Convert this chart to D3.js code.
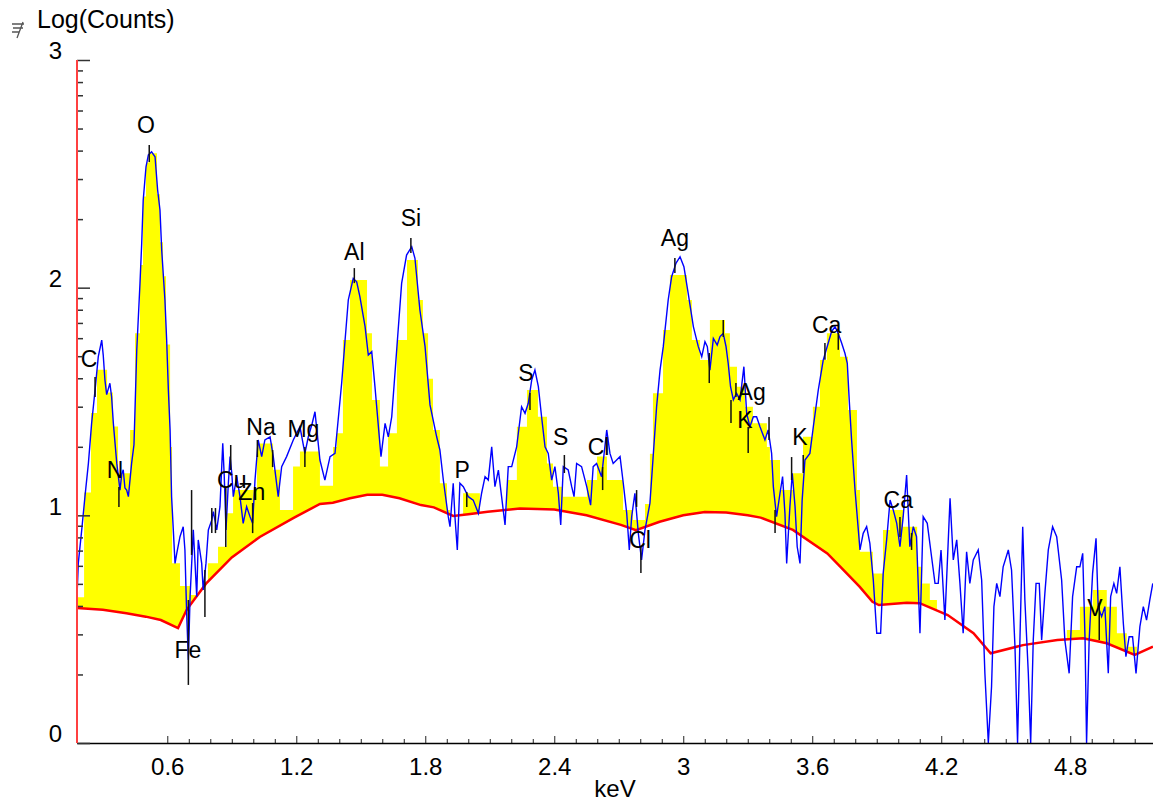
<!DOCTYPE html>
<html>
<head>
<meta charset="utf-8">
<script src="https://cdn.jsdelivr.net/npm/d3@7"></script>
<style>
    body { margin: 0; background: #fff; }
    svg { display: block; font-family: "Liberation Sans", Arial, sans-serif; }
</style>
</head>
<body>
<svg id="chart" width="1153" height="803"></svg>
<script>
// measured spectrum (blue), keV / log10(counts)
var spectrumKeV = [
    0.180, 0.186, 0.202, 0.217, 0.233, 0.248, 0.264, 0.279, 0.295, 0.302,
    0.310, 0.318, 0.333, 0.341, 0.349, 0.365, 0.380, 0.388, 0.395, 0.403,
    0.411, 0.419, 0.434, 0.445, 0.458, 0.473, 0.481, 0.488, 0.501, 0.512,
    0.527, 0.543, 0.555, 0.566, 0.574, 0.589, 0.597, 0.605, 0.613, 0.620,
    0.636, 0.644, 0.659, 0.674, 0.682, 0.690, 0.698, 0.706, 0.721, 0.729,
    0.737, 0.744, 0.760, 0.767, 0.780, 0.791, 0.807, 0.814, 0.830, 0.845,
    0.858, 0.865, 0.873, 0.884, 0.892, 0.900, 0.907, 0.923, 0.938, 0.953,
    0.969, 0.985, 0.997, 1.008, 1.023, 1.039, 1.054, 1.078, 1.093, 1.116,
    1.132, 1.155, 1.186, 1.217, 1.240, 1.256, 1.273, 1.287, 1.310, 1.333,
    1.357, 1.380, 1.411, 1.427, 1.442, 1.465, 1.481, 1.496, 1.520, 1.535,
    1.551, 1.566, 1.594, 1.613, 1.628, 1.644, 1.667, 1.690, 1.713, 1.737,
    1.752, 1.775, 1.799, 1.822, 1.853, 1.868, 1.884, 1.907, 1.915, 1.930,
    1.938, 1.949, 1.961, 1.977, 2.000, 2.023, 2.047, 2.062, 2.078, 2.093,
    2.109, 2.124, 2.140, 2.155, 2.171, 2.186, 2.202, 2.225, 2.248, 2.264,
    2.279, 2.295, 2.310, 2.326, 2.341, 2.357, 2.372, 2.388, 2.403, 2.419,
    2.430, 2.442, 2.465, 2.481, 2.492, 2.504, 2.527, 2.551, 2.569, 2.581,
    2.597, 2.620, 2.644, 2.659, 2.674, 2.690, 2.706, 2.721, 2.737, 2.749,
    2.760, 2.775, 2.791, 2.806, 2.822, 2.845, 2.860, 2.876, 2.892, 2.907,
    2.930, 2.946, 2.966, 2.985, 3.003, 3.023, 3.047, 3.070, 3.086, 3.101,
    3.112, 3.124, 3.140, 3.158, 3.171, 3.186, 3.199, 3.209, 3.220, 3.233,
    3.248, 3.264, 3.282, 3.295, 3.310, 3.326, 3.341, 3.357, 3.380, 3.395,
    3.411, 3.419, 3.434, 3.450, 3.462, 3.473, 3.481, 3.496, 3.507, 3.520,
    3.530, 3.543, 3.553, 3.566, 3.589, 3.605, 3.628, 3.651, 3.674, 3.690,
    3.706, 3.721, 3.737, 3.752, 3.763, 3.772, 3.783, 3.799, 3.822, 3.837,
    3.853, 3.868, 3.884, 3.900, 3.918, 3.930, 3.946, 3.962, 3.977, 3.993,
    4.008, 4.023, 4.039, 4.054, 4.070, 4.085, 4.101, 4.116, 4.135, 4.155,
    4.171, 4.186, 4.199, 4.217, 4.241, 4.256, 4.272, 4.287, 4.302, 4.318,
    4.333, 4.349, 4.372, 4.388, 4.403, 4.419, 4.434, 4.445, 4.458, 4.473,
    4.488, 4.512, 4.527, 4.543, 4.555, 4.566, 4.579, 4.589, 4.605, 4.616,
    4.628, 4.641, 4.656, 4.667, 4.682, 4.698, 4.718, 4.737, 4.760, 4.775,
    4.795, 4.811, 4.830, 4.845, 4.858, 4.869, 4.876, 4.888, 4.904, 4.920,
    4.930, 4.946, 4.961, 4.977, 4.988, 5.003, 5.016, 5.031, 5.047, 5.059,
    5.074, 5.090, 5.106, 5.124, 5.140, 5.155, 5.170, 5.184
];
var spectrumLog = [
    0.643, 0.789, 0.936, 1.082, 1.228, 1.404, 1.55, 1.697, 1.77, 1.704,
    1.594, 1.53, 1.58, 1.52, 1.405, 1.228, 1.111, 1.18, 1.2, 1.12,
    1.111, 1.082, 1.228, 1.31, 1.726, 2.019, 2.195, 2.385, 2.531, 2.583,
    2.597, 2.575, 2.429, 2.341, 2.165, 1.946, 1.77, 1.55, 1.375, 1.082,
    0.789, 0.833, 0.906, 0.95, 0.848, 0.57, 0.365, 0.643, 0.936, 0.79,
    0.643, 0.892, 0.789, 0.672, 0.79, 0.936, 0.98, 1.016, 0.936, 1.038,
    1.316, 1.17, 0.936, 1.141, 1.258, 1.185, 1.082, 1.17, 1.082, 0.965,
    1.038, 0.994, 0.965, 1.155, 1.331, 1.258, 1.331, 1.345, 1.258, 1.082,
    1.214, 1.258, 1.331, 1.389, 1.272, 1.345, 1.40, 1.455, 1.243, 1.155,
    1.258, 1.272, 1.58, 1.77, 1.946, 2.041, 2.026, 1.96, 1.829, 1.704,
    1.719, 1.565, 1.258, 1.404, 1.345, 1.433, 1.726, 2.019, 2.143, 2.18,
    2.129, 1.902, 1.741, 1.485, 1.345, 1.287, 1.155, 0.994, 0.95, 1.141,
    0.994, 0.848, 1.141, 1.126, 1.082, 1.067, 1.009, 1.097, 1.17, 1.155,
    1.301, 1.126, 1.199, 1.082, 0.958, 1.214, 1.214, 1.301, 1.477, 1.448,
    1.492, 1.594, 1.638, 1.565, 1.433, 1.301, 1.272, 1.155, 1.214, 1.097,
    0.958, 1.214, 1.199, 1.126, 1.082, 1.228, 1.214, 1.126, 1.045, 1.214,
    1.228, 1.17, 1.375, 1.272, 1.228, 1.243, 1.258, 1.141, 1.009, 0.848,
    0.994, 1.097, 0.921, 0.804, 0.936, 1.053, 1.258, 1.477, 1.638, 1.741,
    1.946, 2.048, 2.107, 2.136, 2.092, 1.975, 1.829, 1.741, 1.697, 1.763,
    1.741, 1.638, 1.777, 1.748, 1.785, 1.799, 1.741, 1.668, 1.565, 1.507,
    1.536, 1.507, 1.653, 1.448, 1.389, 1.433, 1.433, 1.389, 1.331, 1.375,
    1.272, 1.126, 0.994, 1.097, 1.17, 1.009, 0.789, 1.038, 1.185, 1.038,
    0.862, 0.789, 1.067, 1.243, 1.272, 1.389, 1.55, 1.682, 1.756, 1.807,
    1.829, 1.799, 1.756, 1.712, 1.668, 1.507, 1.331, 1.111, 0.848, 0.921,
    0.95, 0.877, 0.716, 0.482, 0.482, 0.745, 0.892, 1.067, 1.023, 0.965,
    0.862, 0.994, 1.177, 0.862, 0.95, 0.906, 0.482, 0.994, 0.965, 0.818,
    0.701, 0.701, 0.848, 0.54, 1.075, 0.804, 0.892, 0.701, 0.482, 0.84,
    0.701, 0.804, 0.848, 0.716, 0.306, 0, 0.247, 0.599, 0.701, 0.643,
    0.774, 0.848, 0.76, 0.423, 0, 0.452, 0.95, 0.628, 0.306, 0,
    0.452, 0.701, 0.701, 0.452, 0.657, 0.848, 0.95, 0.906, 0.716, 0.452,
    0.306, 0.643, 0.774, 0.774, 0.833, 0.452, 0, 0.452, 0.745, 0.899,
    0.599, 0.555, 0.599, 0.306, 0.643, 0.701, 0.657, 0.774, 0.526, 0.379,
    0.467, 0.467, 0.306, 0.511, 0.599, 0.54, 0.628, 0.701
];

// fitted peaks (yellow steps), each value holds until the next keV
var fitKeV = [
    0.180, 0.213, 0.245, 0.273, 0.320, 0.347, 0.371, 0.427, 0.450, 0.473,
    0.487, 0.501, 0.515, 0.552, 0.566, 0.580, 0.594, 0.613, 0.622, 0.659,
    0.706, 0.775, 0.789, 0.836, 0.878, 0.906, 1.017, 1.092, 1.124, 1.185,
    1.217, 1.310, 1.371, 1.389, 1.417, 1.450, 1.529, 1.552, 1.589, 1.627,
    1.668, 1.715, 1.766, 1.789, 1.813, 1.836, 1.868, 1.901, 1.915, 1.976,
    2.054, 2.180, 2.226, 2.273, 2.324, 2.366, 2.394, 2.440, 2.552, 2.599,
    2.645, 2.720, 2.766, 2.822, 2.845, 2.859, 2.906, 2.938, 3.017, 3.040,
    3.078, 3.124, 3.194, 3.217, 3.250, 3.287, 3.324, 3.389, 3.403, 3.450,
    3.510, 3.557, 3.603, 3.636, 3.668, 3.729, 3.766, 3.808, 3.822, 3.882,
    3.929, 3.962, 4.022, 4.088, 4.111, 4.147, 4.180, 4.784, 4.845, 4.905,
    4.970, 5.017, 5.063, 5.110, 5.185
];
var fitLog = [
    0.64, 1.10, 1.45, 1.64, 1.54, 1.39, 1.185, 1.375, 1.80, 2.10,
    2.40, 2.55, 2.59, 2.41, 2.20, 2.05, 1.75, 1.30, 0.79, 0.69,
    0.65, 0.70, 0.79, 0.862, 1.009, 1.111, 1.316, 1.20, 1.023, 1.214,
    1.28, 1.13, 1.30, 1.36, 1.77, 2.034, 1.80, 1.507, 1.214, 1.36,
    1.77, 2.121, 1.946, 1.80, 1.60, 1.375, 1.141, 1.023, 0.98, 1.097,
    0.98, 1.155, 1.389, 1.55, 1.433, 1.228, 1.126, 1.082, 1.155, 1.258,
    1.155, 1.023, 0.98, 1.05, 1.27, 1.536, 1.814, 2.056, 1.946, 1.77,
    1.682, 1.858, 1.80, 1.653, 1.565, 1.477, 1.404, 1.30, 1.243, 1.111,
    1.185, 1.345, 1.477, 1.682, 1.80, 1.697, 1.463, 1.111, 0.84, 0.745,
    0.936, 1.023, 0.95, 0.774, 0.701, 0.628, 0.30, 0.496, 0.599, 0.672,
    0.599, 0.482, 0.423, 0.38, 0.38
];

// background (red)
var bgKeV = [
    0.18, 0.30, 0.41, 0.50, 0.57, 0.65, 0.69, 0.78, 0.90, 1.03,
    1.19, 1.31, 1.37, 1.45, 1.53, 1.60, 1.68, 1.78, 1.84, 1.93,
    2.00, 2.09, 2.24, 2.40, 2.55, 2.71, 2.78, 2.89, 3.00, 3.10,
    3.20, 3.30, 3.36, 3.51, 3.67, 3.73, 3.82, 3.88, 3.91, 4.04,
    4.10, 4.23, 4.35, 4.43, 4.58, 4.74, 4.86, 4.97, 5.10, 5.185
];
var bgLog = [
    0.593, 0.585, 0.57, 0.555, 0.54, 0.505, 0.585, 0.70, 0.815, 0.905,
    0.99, 1.05, 1.055, 1.075, 1.09, 1.09, 1.075, 1.045, 1.035, 0.997,
    1.005, 1.016, 1.03, 1.026, 1.0, 0.958, 0.935, 0.972, 1.0, 1.015,
    1.012, 1.0, 0.99, 0.936, 0.833, 0.775, 0.687, 0.62, 0.606, 0.616,
    0.614, 0.562, 0.482, 0.394, 0.43, 0.452, 0.46, 0.438, 0.387, 0.423
];

// element line markers
var markerKeV = [
    0.264, 0.375, 0.516, 0.698, 0.713, 0.775, 0.807, 0.824, 0.872, 0.895,
    0.997, 1.019, 1.090, 1.240, 1.470, 1.733, 1.993, 2.287, 2.447, 2.625,
    2.783, 2.803, 2.961, 3.121, 3.186, 3.222, 3.245, 3.302, 3.399, 3.427,
    3.504, 3.558, 3.659, 3.721, 4.008, 4.062, 4.935
];
var markerTop = [
    1.608, 1.124, 2.627, 0.628, 1.111, 0.760, 1.032, 1.032, 1.124, 1.309,
    1.054, 1.331, 1.287, 1.300, 2.086, 2.218, 1.102, 1.537, 1.265, 1.212,
    1.111, 0.861, 2.130, 1.713, 1.858, 1.507, 1.581, 1.388, 1.432, 1.023,
    1.256, 1.265, 1.757, 1.801, 0.993, 0.922, 0.615
];
var markerBottom = [
    1.520, 1.037, 2.552, 0.255, 0.826, 0.553, 0.922, 0.922, 0.861, 1.199,
    0.922, 1.256, 1.212, 1.212, 2.020, 2.152, 1.037, 1.463, 1.186, 1.111,
    1.037, 0.747, 2.064, 1.581, 1.783, 1.406, 1.520, 1.274, 1.331, 0.922,
    1.155, 1.186, 1.683, 1.727, 0.905, 0.848, 0.452
];

// element labels
var labelNames = ["C", "N", "O", "Fe", "Cu", "Zn", "Na", "Mg", "Al", "Si", "P",
    "S", "S", "Cl", "Cl", "Ag", "Ag", "K", "K", "Ca", "Ca", "V"];
var labelKeV = [0.236, 0.357, 0.501, 0.696, 0.900, 0.993, 1.036, 1.233, 1.470, 1.733, 1.972,
    2.268, 2.430, 2.606, 2.799, 2.961, 3.318, 3.287, 3.543, 3.667, 4.000, 4.915];
var labelLog = [1.652, 1.164, 2.679, 0.373, 1.120, 1.067, 1.353, 1.344, 2.121, 2.271, 1.164,
    1.590, 1.309, 1.265, 0.856, 2.183, 1.507, 1.384, 1.309, 1.801, 1.031, 0.558];

var xTickValues = [0.6, 1.2, 1.8, 2.4, 3, 3.6, 4.2, 4.8];
var yTickValues = [0, 1, 2, 3];

var svg = d3.select("#chart");
var margin = { top: 60, right: 0, bottom: 60, left: 77 };
var width = +svg.attr("width") - margin.left - margin.right;
var height = +svg.attr("height") - margin.top - margin.bottom;
var g = svg.append("g").attr("transform", "translate(" + margin.left + "," + margin.top + ")");

var x = d3.scaleLinear().domain([0.18, 5.185]).range([0, width]);
var y = d3.scaleLinear().domain([0, 3]).range([height, 0]);

var spectrum = spectrumKeV.map(function(e, i) { return { e: e, v: spectrumLog[i] }; });
var fit = fitKeV.map(function(e, i) { return { e: e, v: fitLog[i] }; });
var bg = bgKeV.map(function(e, i) { return { e: e, v: bgLog[i] }; });

// Attach yellow peak area, then cover everything under the background in white
g.append("path")
    .datum(fit)
    .attr("fill", "#ffff00")
    .attr("d", d3.area()
        .curve(d3.curveStepAfter)
        .x(function(d) { return x(d.e); })
        .y0(height)
        .y1(function(d) { return y(d.v); }));

g.append("path")
    .datum(bg)
    .attr("fill", "#fff")
    .attr("d", d3.area()
        .x(function(d) { return x(d.e); })
        .y0(height)
        .y1(function(d) { return y(d.v); }));

// Attach background line
g.append("path")
    .datum(bg)
    .attr("fill", "none")
    .attr("stroke", "#ff0000")
    .attr("stroke-width", 2.5)
    .attr("d", d3.line()
        .x(function(d) { return x(d.e); })
        .y(function(d) { return y(d.v); }));

// Attach spectrum
g.append("path")
    .datum(spectrum)
    .attr("fill", "none")
    .attr("stroke", "#0000ff")
    .attr("stroke-width", 1.4)
    .attr("d", d3.line()
        .x(function(d) { return x(d.e); })
        .y(function(d) { return y(d.v); }));

// Attach element markers
g.selectAll(".marker")
    .data(markerKeV)
    .enter().append("line")
    .attr("class", "marker")
    .attr("x1", function(d) { return x(d); })
    .attr("x2", function(d) { return x(d); })
    .attr("y1", function(d, i) { return y(markerTop[i]); })
    .attr("y2", function(d, i) { return y(markerBottom[i]); })
    .attr("stroke", "#111")
    .attr("stroke-width", 1.5);

// Attach element labels
g.selectAll(".elem")
    .data(labelNames)
    .enter().append("text")
    .attr("class", "elem")
    .attr("x", function(d, i) { return x(labelKeV[i]); })
    .attr("y", function(d, i) { return y(labelLog[i]); })
    .attr("text-anchor", "middle")
    .style("font-size", "23px")
    .attr("fill", "#000")
    .text(function(d) { return d; });

// Attach X Axis
var xMinor = d3.range(7, 52).map(function(i) { return i / 10; })
    .filter(function(d) { return Math.abs(d / 0.6 - Math.round(d / 0.6)) > 0.01; });

g.append("g")
    .attr("transform", "translate(0," + height + ")")
    .call(d3.axisBottom(x).tickValues(xMinor).tickSizeInner(-4).tickSizeOuter(0).tickFormat(""))
    .call(function(a) { a.select(".domain").remove(); })
    .selectAll("line").attr("stroke", "#222");

var xAxis = g.append("g")
    .attr("transform", "translate(0," + height + ")")
    .call(d3.axisBottom(x).tickValues(xTickValues).tickSizeInner(-7).tickSizeOuter(0)
        .tickPadding(15).tickFormat(function(d) { return String(d); }));
xAxis.select(".domain").attr("stroke", "#000").attr("stroke-width", 1.5);
xAxis.selectAll("line").attr("stroke", "#222");
xAxis.selectAll("text").style("font-size", "24px").attr("fill", "#000")
    .attr("font-family", "Liberation Sans, Arial, sans-serif");

// Attach Y Axis
var yMinor = [];
yTickValues.slice(0, -1).forEach(function(n) {
    d3.range(2, 10).forEach(function(k) { yMinor.push(n + Math.log10(k)); });
});

g.append("g")
    .call(d3.axisLeft(y).tickValues(yMinor).tickSizeInner(-6).tickSizeOuter(0).tickFormat(""))
    .call(function(a) { a.select(".domain").remove(); })
    .selectAll("line").attr("stroke", "#333").attr("stroke-width", 1.5);

var yAxis = g.append("g")
    .call(d3.axisLeft(y).tickValues(yTickValues).tickSizeInner(-13).tickSizeOuter(0)
        .tickPadding(15).tickFormat(d3.format("d")));
yAxis.select(".domain").remove();
yAxis.selectAll("line").attr("stroke", "#333").attr("stroke-width", 1.5);
yAxis.selectAll("text").style("font-size", "24px").attr("fill", "#000").attr("dy", "-0.05em")
    .attr("font-family", "Liberation Sans, Arial, sans-serif");

g.append("line")
    .attr("x1", 0).attr("x2", 0)
    .attr("y1", y(0)).attr("y2", y(3))
    .attr("stroke", "#ff4040")
    .attr("stroke-width", 2);

// Axis titles
svg.append("text")
    .attr("x", 37)
    .attr("y", 28)
    .style("font-size", "25px")
    .text("Log(Counts)");

svg.append("text")
    .attr("x", margin.left + width / 2)
    .attr("y", 797)
    .attr("text-anchor", "middle")
    .style("font-size", "24px")
    .text("keV");

// little scale icon in the corner
svg.append("path")
    .attr("d", "M12,24 h12 M13,28 h10 M12,32 h7 M23,22 L17,38")
    .attr("fill", "none")
    .attr("stroke", "#555")
    .attr("stroke-width", 1.3);
</script>
</body>
</html>
